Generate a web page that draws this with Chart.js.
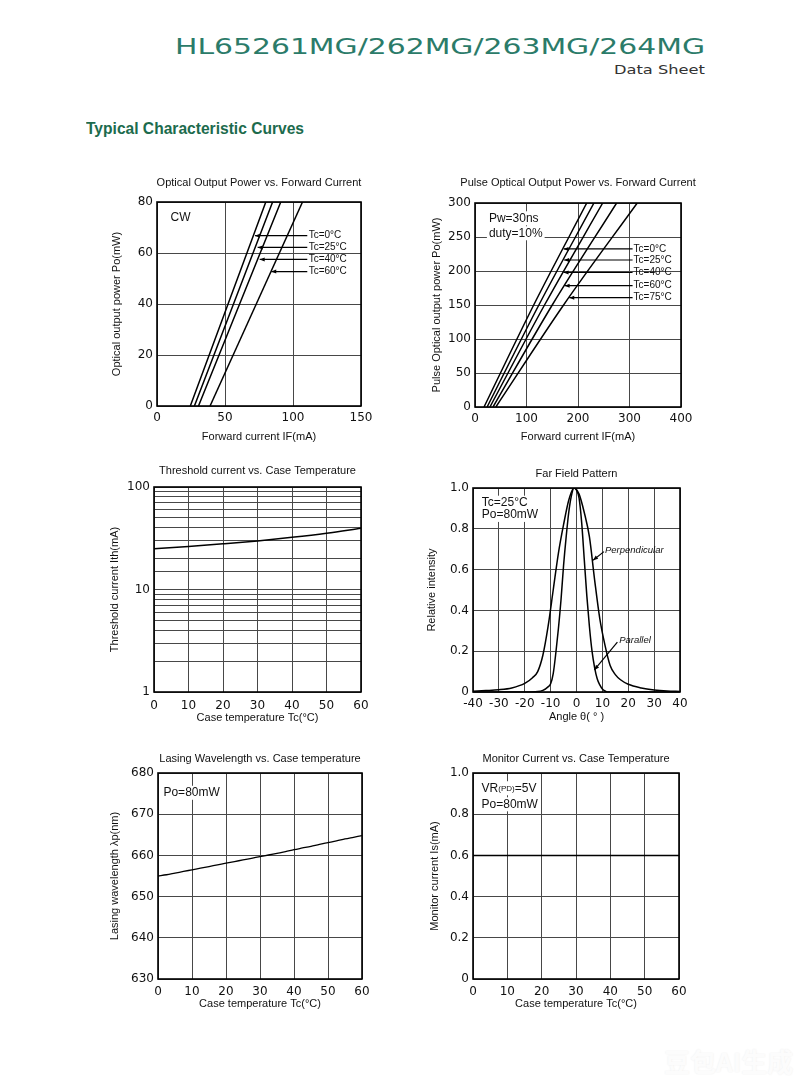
<!DOCTYPE html>
<html lang="en">
<head>
<meta charset="UTF-8" />
<title>HL65261MG Typical Characteristic Curves</title>
<script src="https://cdn.jsdelivr.net/npm/chart.js"></script>
<style>
  body { margin: 0; background: #fff; }
  #page { position: relative; width: 800px; height: 1086px; overflow: hidden; background: #fff; }
  .txt { position: absolute; white-space: nowrap; line-height: 1; }
  canvas { position: absolute; }
</style>
</head>
<body>
<div id="page">
  <div class="txt fit" data-w="530" style="left:175px;top:34px;font:22px 'DejaVu Sans';color:#2b7b69;">HL65261MG/262MG/263MG/264MG</div>
  <div class="txt fit" data-w="91" data-right="705" style="top:63px;font:12px 'DejaVu Sans';color:#333;">Data Sheet</div>
  <div class="txt fit" data-w="218" style="left:86px;top:120px;font:bold 16px 'Liberation Sans Narrow','Liberation Sans',sans-serif;color:#1c6b4d;">Typical Characteristic Curves</div>
  <div class="txt" style="left:664px;top:1042px;font:700 26px 'Noto Sans CJK SC';color:#fcfcfc;text-shadow:0 0 2px rgba(0,0,0,0.07);">豆包AI生成</div>
</div>
<script>
// ---- data ----
// CW: forward current (mA) at Po = 0 and 80 mW
const cwPower = [0, 80];
const cwIf0 = [24.5, 80];
const cwIf25 = [27.5, 85];
const cwIf40 = [30.5, 91];
const cwIf60 = [39, 107];

// pulse: forward current (mA) at Po = 0, 150, 300 mW
const pulsePower = [0, 150, 300];
const pulseIf0 = [17.5, 114, 217];
const pulseIf25 = [23.5, 124, 231];
const pulseIf40 = [29, 135, 248];
const pulseIf60 = [35, 150, 275];
const pulseIf75 = [40.5, 172, 315];

// threshold current vs case temperature
const thTemp = [0, 10, 20, 30, 40, 50, 60];
const thCurrent = [25, 26.3, 27.9, 29.8, 32.3, 35.4, 39.5];

// far field pattern
const perpAngle = [-40, -35, -30, -25, -20, -17, -15, -13, -11, -9, -7, -5, -3, -1, 1, 3, 5, 7, 9, 11, 13, 15, 17, 20, 25, 30, 35, 40];
const perpIntensity = [0.004, 0.007, 0.011, 0.02, 0.042, 0.07, 0.10, 0.18, 0.32, 0.50, 0.68, 0.82, 0.94, 1.0, 0.97, 0.88, 0.76, 0.55, 0.36, 0.23, 0.13, 0.085, 0.06, 0.038, 0.02, 0.01, 0.005, 0.003];
const parAngle = [-40, -20, -15, -13, -11, -10, -9, -8, -7, -6, -5, -4, -3, -2, -1, 0, 1, 2, 3, 4, 5, 6, 7, 8, 9, 10, 11, 12, 15, 40];
const parIntensity = [0, 0, 0.002, 0.008, 0.025, 0.04, 0.09, 0.19, 0.31, 0.45, 0.62, 0.76, 0.88, 0.96, 1.0, 0.99, 0.95, 0.83, 0.65, 0.47, 0.32, 0.2, 0.12, 0.065, 0.035, 0.015, 0.005, 0, 0, 0];

// lasing wavelength vs case temperature
const wlTemp = [0, 2.5, 5, 7.5, 10, 12.5, 15, 17.5, 20, 22.5, 25, 27.5, 30, 32.5, 35, 37.5, 40, 42.5, 45, 47.5, 50, 52.5, 55, 57.5, 60];
const wlValue = [655.0, 655.3, 655.7, 656.1, 656.5, 656.9, 657.3, 657.7, 658.1, 658.5, 658.9, 659.3, 659.7, 660.1, 660.5, 660.9, 661.4, 661.8, 662.2, 662.7, 663.1, 663.5, 664.0, 664.4, 664.8];

// monitor current vs case temperature
const monTemp = [0, 60];
const monCurrent = [0.6, 0.6];

// ---- helpers ----
const pts = (xs, ys) => xs.map((x, i) => ({ x: x, y: ys[i] }));
const swap = (ps, is) => ps.map((p, i) => ({ x: is[i], y: p }));
const line = (data, extra) => Object.assign({ data: data, borderColor: '#000', borderWidth: 1.5, pointRadius: 0, fill: false, cubicInterpolationMode: 'monotone' }, extra || {});
const TICK_FONT = { family: 'DejaVu Sans', size: 12 };
const SANS = '"Liberation Sans", Arial, sans-serif';
const oneDecimal = v => (v === 0 ? '0' : v.toFixed(1));

const deco = {
  id: 'deco',
  afterDraw(chart, args, o) {
    const { ctx, chartArea: a, scales } = chart;
    const sx = scales.x, sy = scales.y;
    ctx.save();
    ctx.fillStyle = '#111';
    ctx.textBaseline = 'middle';
    ctx.textAlign = 'center';
    ctx.font = '11px ' + SANS;
    const cx = (a.left + a.right) / 2;
    ctx.fillText(o.title, cx, a.top - o.titleGap);
    ctx.fillText(o.xTitle, cx, a.bottom + o.xGap);
    ctx.save();
    ctx.translate(a.left - o.yGap, (a.top + a.bottom) / 2);
    ctx.rotate(-Math.PI / 2);
    ctx.fillText(o.yTitle, 0, 0);
    ctx.restore();

    ctx.textAlign = 'left';
    (o.notes || []).forEach(n => {
      const parts = n.parts || [{ t: n.text }];
      const px = sx.getPixelForValue(n.x), py = sy.getPixelForValue(n.y);
      const size = n.size || 11;
      let w = 0;
      parts.forEach(p => { ctx.font = (n.italic ? 'italic ' : '') + (p.size || size) + 'px ' + SANS; w += ctx.measureText(p.t).width; });
      if (n.bg) { ctx.fillStyle = '#fff'; ctx.fillRect(px - 2, py - size / 2 - 1, w + 4, size + 2); }
      ctx.fillStyle = '#111';
      let x = px;
      parts.forEach(p => {
        ctx.font = (n.italic ? 'italic ' : '') + (p.size || size) + 'px ' + SANS;
        ctx.fillText(p.t, x, py + (p.dy || 0));
        x += ctx.measureText(p.t).width;
      });
    });

    ctx.strokeStyle = '#000';
    ctx.fillStyle = '#000';
    ctx.lineWidth = 1.2;
    (o.arrows || []).forEach(r => {
      const x1 = sx.getPixelForValue(r[0]), y1 = sy.getPixelForValue(r[1]);
      const x2 = sx.getPixelForValue(r[2]), y2 = sy.getPixelForValue(r[3]);
      ctx.beginPath(); ctx.moveTo(x1, y1); ctx.lineTo(x2, y2); ctx.stroke();
      const ang = Math.atan2(y2 - y1, x2 - x1);
      ctx.beginPath();
      ctx.moveTo(x2, y2);
      ctx.lineTo(x2 - 5 * Math.cos(ang) + 2 * Math.sin(ang), y2 - 5 * Math.sin(ang) - 2 * Math.cos(ang));
      ctx.lineTo(x2 - 5 * Math.cos(ang) - 2 * Math.sin(ang), y2 - 5 * Math.sin(ang) + 2 * Math.cos(ang));
      ctx.closePath(); ctx.fill();
    });

    ctx.lineWidth = 1.6;
    ctx.strokeRect(a.left, a.top, a.right - a.left, a.bottom - a.top);
    ctx.restore();
  }
};

function axis(min, max, step, fit, pad, fmt) {
  const ticks = { stepSize: step, font: TICK_FONT, color: '#111', padding: pad, maxRotation: 0, autoSkip: false };
  if (fmt) ticks.callback = fmt;
  return {
    type: 'linear', min: min, max: max, ticks: ticks,
    grid: { color: '#484848', lineWidth: 1, drawTicks: false },
    border: { display: false },
    afterFit: fit
  };
}

function panel(p, yAxis, xAxis, datasets, d) {
  const c = document.createElement('canvas');
  c.width = p.w; c.height = p.h;
  c.style.left = p.left + 'px'; c.style.top = p.top + 'px';
  document.getElementById('page').appendChild(c);
  const y = axis(yAxis.min, yAxis.max, yAxis.step, s => { s.width = p.yw; }, 4, yAxis.fmt);
  if (yAxis.log) y.type = 'logarithmic';
  new Chart(c, {
    type: 'line',
    data: { datasets: datasets },
    options: {
      responsive: false, animation: false, devicePixelRatio: 1,
      layout: { padding: { top: p.pt, right: p.pr, left: 0, bottom: 0 } },
      scales: {
        x: axis(xAxis.min, xAxis.max, xAxis.step, s => { s.height = p.xh; }, xAxis.pad || 5),
        y: y
      },
      plugins: { legend: { display: false }, tooltip: { enabled: false }, deco: d }
    },
    plugins: [deco]
  });
}

// 1. CW optical output power
panel({ left: 100, top: 172, w: 280, h: 275, yw: 57, xh: 41, pt: 30, pr: 19 },
  { min: 0, max: 80, step: 20 }, { min: 0, max: 150, step: 50 },
  [cwIf0, cwIf25, cwIf40, cwIf60].map(c => line(swap(cwPower, c))),
  {
    title: 'Optical Output Power vs. Forward Current', titleGap: 19,
    xTitle: 'Forward current IF(mA)', xGap: 31,
    yTitle: 'Optical output power Po(mW)', yGap: 40,
    notes: [
      { x: 10, y: 73.8, text: 'CW', size: 12 },
      { x: 111.5, y: 66.8, text: 'Tc=0°C', size: 10 },
      { x: 111.5, y: 62.2, text: 'Tc=25°C', size: 10 },
      { x: 111.5, y: 57.5, text: 'Tc=40°C', size: 10 },
      { x: 111.5, y: 52.7, text: 'Tc=60°C', size: 10 }
    ],
    arrows: [[110.5, 66.8, 72, 66.8], [110.5, 62.2, 74, 62.2], [110.5, 57.5, 75.5, 57.5], [110.5, 52.7, 84, 52.7]]
  });

// 2. pulse optical output power
panel({ left: 420, top: 172, w: 290, h: 275, yw: 55, xh: 40, pt: 31, pr: 29 },
  { min: 0, max: 300, step: 50 }, { min: 0, max: 400, step: 100 },
  [pulseIf0, pulseIf25, pulseIf40, pulseIf60, pulseIf75].map(c => line(swap(pulsePower, c))),
  {
    title: 'Pulse Optical Output Power vs. Forward Current', titleGap: 20,
    xTitle: 'Forward current IF(mA)', xGap: 30,
    yTitle: 'Pulse Optical output power Po(mW)', yGap: 38,
    notes: [
      { x: 27, y: 277.5, text: 'Pw=30ns', size: 12, bg: true },
      { x: 27, y: 255.5, text: 'duty=10%', size: 12, bg: true },
      { x: 308, y: 232.4, text: 'Tc=0°C', size: 10 },
      { x: 308, y: 216.2, text: 'Tc=25°C', size: 10 },
      { x: 308, y: 197.8, text: 'Tc=40°C', size: 10 },
      { x: 308, y: 178.4, text: 'Tc=60°C', size: 10 },
      { x: 308, y: 160.7, text: 'Tc=75°C', size: 10 }
    ],
    arrows: [[306, 232.4, 172, 232.4], [306, 216.2, 173, 216.2], [306, 197.8, 172, 197.8], [306, 178.4, 174, 178.4], [306, 160.7, 183, 160.7]]
  });

// 3. threshold current (log axis)
panel({ left: 100, top: 457, w: 280, h: 275, yw: 54, xh: 40, pt: 30, pr: 19 },
  { min: 1, max: 100, log: true, fmt: v => ([1, 10, 100].includes(v) ? String(v) : '') },
  { min: 0, max: 60, step: 10, pad: 7 },
  [line(pts(thTemp, thCurrent))],
  {
    title: 'Threshold current vs. Case Temperature', titleGap: 16,
    xTitle: 'Case temperature Tc(°C)', xGap: 26,
    yTitle: 'Threshold current Ith(mA)', yGap: 39
  });

// 4. far field pattern
panel({ left: 420, top: 457, w: 290, h: 275, yw: 53, xh: 40, pt: 31, pr: 30 },
  { min: 0, max: 1, step: 0.2, fmt: oneDecimal }, { min: -40, max: 40, step: 10 },
  [line(pts(perpAngle, perpIntensity)), line(pts(parAngle, parIntensity))],
  {
    title: 'Far Field Pattern', titleGap: 14,
    xTitle: 'Angle θ( ° )', xGap: 25,
    yTitle: 'Relative intensity', yGap: 41,
    notes: [
      { x: -36.6, y: 0.928, text: 'Tc=25°C', size: 12, bg: true },
      { x: -36.6, y: 0.868, text: 'Po=80mW', size: 12, bg: true },
      { x: 11, y: 0.696, text: 'Perpendicular', size: 9.5, italic: true },
      { x: 16.5, y: 0.255, text: 'Parallel', size: 9.5, italic: true }
    ],
    arrows: [[10.6, 0.688, 6.4, 0.646], [15.8, 0.245, 6.9, 0.108]]
  });

// 5. lasing wavelength
panel({ left: 100, top: 743, w: 280, h: 277, yw: 58, xh: 41, pt: 30, pr: 18 },
  { min: 630, max: 680, step: 10 }, { min: 0, max: 60, step: 10, pad: 6 },
  [line(pts(wlTemp, wlValue), { borderWidth: 1.3 })],
  {
    title: 'Lasing Wavelength vs. Case temperature', titleGap: 14,
    xTitle: 'Case temperature Tc(°C)', xGap: 25,
    yTitle: 'Lasing wavelength λp(nm)', yGap: 43,
    notes: [{ x: 1.6, y: 675.2, text: 'Po=80mW', size: 12, bg: true }]
  });

// 6. monitor current
panel({ left: 420, top: 743, w: 290, h: 277, yw: 53, xh: 41, pt: 30, pr: 31 },
  { min: 0, max: 1, step: 0.2, fmt: oneDecimal }, { min: 0, max: 60, step: 10, pad: 6 },
  [line(pts(monTemp, monCurrent))],
  {
    title: 'Monitor Current vs. Case Temperature', titleGap: 14,
    xTitle: 'Case temperature Tc(°C)', xGap: 25,
    yTitle: 'Monitor current Is(mA)', yGap: 38,
    notes: [
      { x: 2.5, y: 0.926, parts: [{ t: 'VR' }, { t: '(PD)', size: 8, dy: 1 }, { t: '=5V' }], size: 12, bg: true },
      { x: 2.5, y: 0.848, text: 'Po=80mW', size: 12, bg: true }
    ]
  });

// stretch header text to the widths in the original
document.querySelectorAll('.fit').forEach(el => {
  const target = +el.dataset.w;
  const w = el.getBoundingClientRect().width;
  el.style.transformOrigin = 'left center';
  el.style.transform = 'scaleX(' + (target / w) + ')';
  if (el.dataset.right) el.style.left = (+el.dataset.right - target) + 'px';
});
</script>
</body>
</html>
